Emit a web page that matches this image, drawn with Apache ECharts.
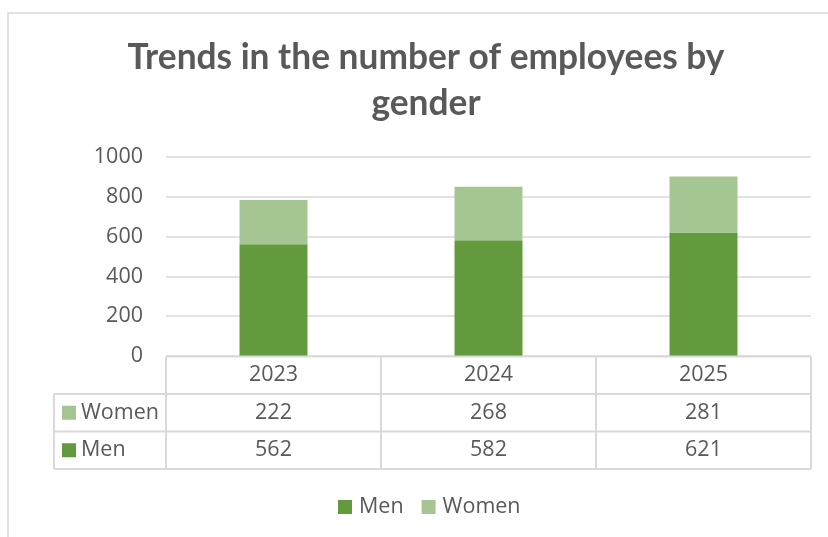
<!DOCTYPE html>
<html>
<head>
<meta charset="utf-8">
<title>Employees by gender</title>
<script src="https://cdn.jsdelivr.net/npm/echarts@6/dist/echarts.min.js"></script>
<style>
  html, body { margin: 0; padding: 0; background: #fff; }
  #chart { width: 828px; height: 537px; }
</style>
</head>
<body>
<div id="chart"></div>
<script>
// Headcount per year, split by gender
const years = ['2023', '2024', '2025'];
const men = [562, 582, 621];
const women = [222, 268, 281];
const seriesNames = ['Men', 'Women'];
const titleText = 'Trends in the number of employees by\ngender';

const LABEL_FONT = '"Open Sans", "Noto Sans", sans-serif';
const TITLE_FONT = 'Lato, "Open Sans", sans-serif';
const TEXT = '#595959';
const LINE = '#d9d9d9';
const MEN_COLOR = '#639a3e';
const WOMEN_COLOR = '#a5c593';
const LABEL_SIZE = 21.5;

const chart = echarts.init(document.getElementById('chart'), null, { renderer: 'canvas' });

const option = {
  animation: false,
  backgroundColor: '#fff',
  title: {
    text: titleText,
    left: 426,
    textAlign: 'center',
    top: 35,
    padding: 0,
    textStyle: {
      fontFamily: TITLE_FONT,
      fontWeight: 'bold',
      fontSize: 35.3,
      lineHeight: 46,
      color: TEXT
    }
  },
  legend: {
    data: seriesNames,
    top: 491,
    left: 333,
    icon: 'rect',
    itemWidth: 14,
    itemHeight: 14,
    itemGap: 18,
    textStyle: { fontFamily: LABEL_FONT, fontSize: LABEL_SIZE, color: TEXT, padding: [0, 0, 0, 2] }
  },
  grid: { left: 166, right: 17, top: 157, bottom: 181, containLabel: false },
  xAxis: {
    type: 'category',
    data: years,
    axisLine: { show: false },
    axisTick: { show: false },
    axisLabel: { show: false }
  },
  yAxis: {
    type: 'value',
    min: 0,
    max: 1000,
    interval: 200,
    axisLine: { show: false },
    axisTick: { show: false },
    axisLabel: {
      fontFamily: LABEL_FONT, fontSize: LABEL_SIZE, color: TEXT, margin: 23,
      formatter: v => String(v)
    },
    splitLine: { lineStyle: { color: LINE, width: 1.5 } }
  },
  series: [
    {
      name: 'Men', type: 'bar', stack: 'total', data: men,
      barWidth: '31.6%', itemStyle: { color: MEN_COLOR }
    },
    {
      name: 'Women', type: 'bar', stack: 'total', data: women,
      barWidth: '31.6%', itemStyle: { color: WOMEN_COLOR }
    }
  ]
};

chart.setOption(option);

// Data table under the plot, laid out from the category axis positions
function buildTable() {
  const cx = years.map((_, i) => chart.convertToPixel({ xAxisIndex: 0 }, i));
  const band = cx[1] - cx[0];
  const x0 = cx[0] - band / 2;
  const xEnd = cx[cx.length - 1] + band / 2;
  const y0 = chart.convertToPixel({ yAxisIndex: 0 }, 0) + 0.5;
  const rowH = 37.5;
  const keyWidth = 112;
  const tableLeft = x0 - keyWidth;
  const els = [];
  const line = (x1, y1, x2, y2) => els.push({
    type: 'line', silent: true, z: 5,
    shape: { x1, y1, x2, y2 },
    style: { stroke: LINE, lineWidth: 2 }
  });
  const text = (x, y, str, align) => els.push({
    type: 'text', silent: true, z: 6, x, y,
    style: {
      text: str, fill: TEXT, font: LABEL_SIZE + 'px ' + LABEL_FONT,
      textAlign: align || 'center', textVerticalAlign: 'middle'
    }
  });

  // outer chart frame
  els.push({
    type: 'rect', silent: true, z: 1,
    shape: { x: 8, y: 13, width: 900, height: 600 },
    style: { fill: null, stroke: LINE, lineWidth: 1.5 }
  });

  line(x0, y0, xEnd, y0);
  for (let r = 1; r <= 3; r++) line(tableLeft, y0 + r * rowH, xEnd, y0 + r * rowH);
  line(tableLeft, y0 + rowH, tableLeft, y0 + 3 * rowH);
  for (let k = 0; k <= years.length; k++) line(x0 + k * band, y0, x0 + k * band, y0 + 3 * rowH);

  const rows = [
    { name: 'Women', values: women, color: WOMEN_COLOR },
    { name: 'Men', values: men, color: MEN_COLOR }
  ];
  years.forEach((yr, i) => text(cx[i], y0 + rowH / 2, yr));
  rows.forEach((row, r) => {
    const yc = y0 + (r + 1.5) * rowH;
    row.values.forEach((v, i) => text(cx[i], yc, String(v)));
    els.push({
      type: 'rect', silent: true, z: 6,
      shape: { x: tableLeft + 8, y: yc - 7, width: 14, height: 14 },
      style: { fill: row.color }
    });
    text(tableLeft + 27, yc, row.name, 'left');
  });
  chart.setOption({ graphic: { elements: els } });
}
buildTable();
</script>
</body>
</html>
